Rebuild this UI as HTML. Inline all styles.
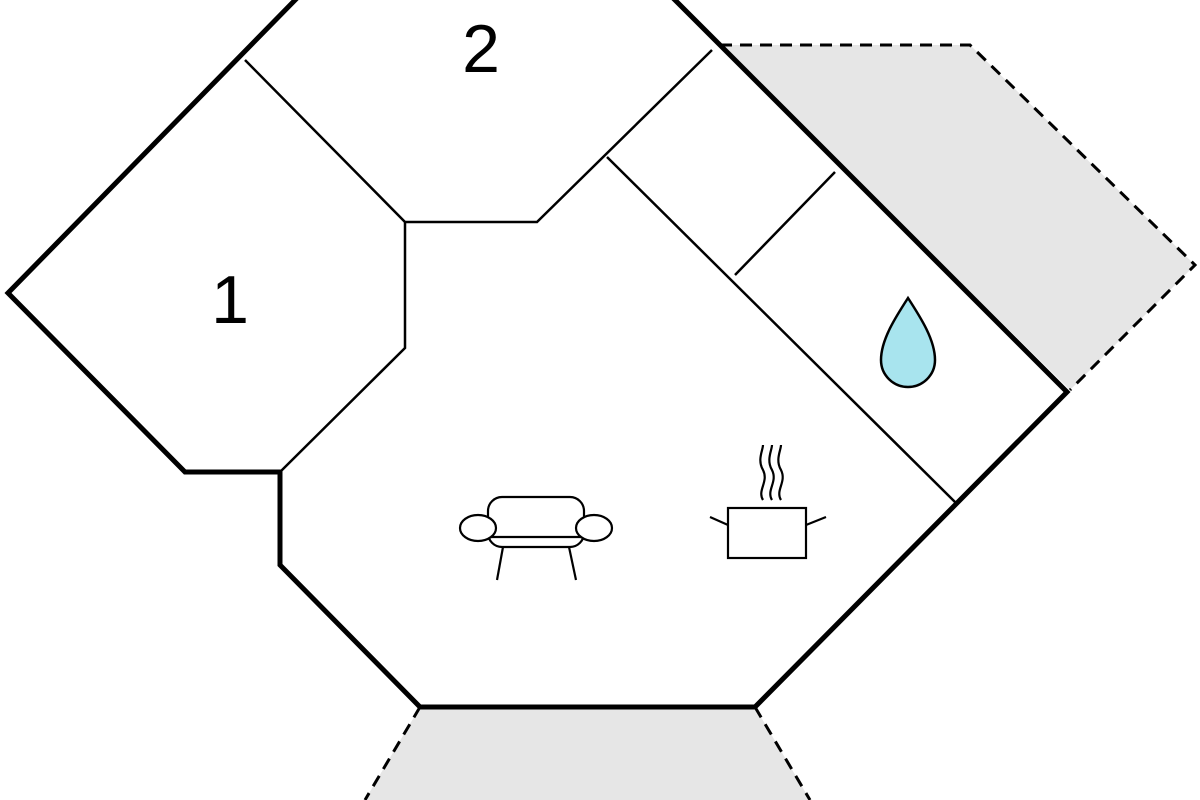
<!DOCTYPE html>
<html><head><meta charset="utf-8"><style>html,body{margin:0;padding:0;background:#fff;width:1200px;height:800px;overflow:hidden}</style></head>
<body>
<svg width="1200" height="800" viewBox="0 0 1200 800" xmlns="http://www.w3.org/2000/svg">
<polygon points="720,45 970,45 1195,265 1070,390" fill="#e6e6e6"/>
<polyline points="720,45 970,45 1195,265 1070,390" fill="none" stroke="#000" stroke-width="3" stroke-dasharray="12,8"/>
<polygon points="420,707 755,707 810,800 365,800" fill="#e6e6e6"/>
<line x1="420" y1="707" x2="365" y2="800" stroke="#000" stroke-width="3" stroke-dasharray="12,8"/>
<line x1="755" y1="707" x2="810" y2="800" stroke="#000" stroke-width="3" stroke-dasharray="12,8"/>
<g fill="none" stroke="#000" stroke-width="2.5">
<polyline points="245,60 405,222 537,222 712,50"/>
<polyline points="405,222 405,348 280,472"/>
<line x1="607" y1="157" x2="955" y2="502"/>
<line x1="835" y1="172" x2="735" y2="275"/>
</g>
<polyline points="300,-5 8,293 185,472 280,472 280,565 420,707 755,707 1067,392 720,45 670,-5" fill="none" stroke="#000" stroke-width="5" stroke-linejoin="miter"/>
<text x="481" y="72" font-family="Liberation Sans, sans-serif" font-size="68" text-anchor="middle">2</text>
<text x="230" y="323" font-family="Liberation Sans, sans-serif" font-size="68" text-anchor="middle">1</text>
<path d="M908,298 C895,318 881,340 881,360 A27,27 0 0 0 935,360 C935,340 921,318 908,298 Z" fill="#a8e4ee" stroke="#000" stroke-width="2.5"/>
<g fill="#fff" stroke="#000" stroke-width="2.2">
<rect x="488" y="497" width="96" height="50" rx="14"/>
<line x1="488" y1="537" x2="584" y2="537"/>
<ellipse cx="478" cy="528" rx="18" ry="13"/>
<ellipse cx="594" cy="528" rx="18" ry="13"/>
<line x1="503" y1="547" x2="497" y2="580"/>
<line x1="569" y1="547" x2="576" y2="580"/>
<rect x="728" y="508" width="78" height="50"/>
<line x1="728" y1="525" x2="710" y2="517"/>
<line x1="806" y1="525" x2="826" y2="517"/>
<path d="M763,500 c-6,-10 6,-18 0,-30 c-6,-10 0,-20 0,-25" fill="none"/>
<path d="M772,500 c-6,-10 6,-18 0,-30 c-6,-10 0,-20 0,-25" fill="none"/>
<path d="M781,500 c-6,-10 6,-18 0,-30 c-6,-10 0,-20 0,-25" fill="none"/>
</g>
</svg>
</body></html>
